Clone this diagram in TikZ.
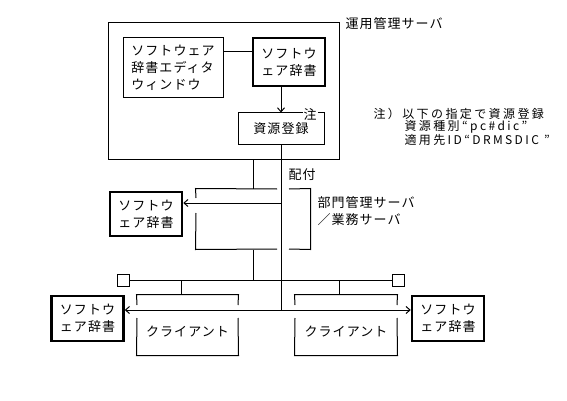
\documentclass[tikz,border=0pt]{standalone}
\usepackage{fontspec}
\setmainfont{Noto Sans CJK JP}[LetterSpace=8]
\newfontfamily\notefont{Noto Sans CJK JP}[LetterSpace=20]
\usetikzlibrary{arrows.meta}
\begin{document}
\begin{tikzpicture}[x=1pt,y=-1pt,line width=1pt,
  txt/.style={font=\fontsize{13}{17}\selectfont, inner sep=0pt},
  note/.style={font=\notefont\fontsize{12}{13}\selectfont, inner sep=0pt, anchor=west},
  box/.style={draw, txt, align=center},
  dict/.style={box, line width=2.5pt, minimum width=72pt, minimum height=45pt},
  plain/.style={inner sep=0pt},
  arr/.style={-{Straight Barb[length=4pt,width=7pt]}}]
\useasboundingbox (0,0) rectangle (567,401);
% operations server
\node[draw, plain, minimum width=231pt, minimum height=136pt] (ops) at (223.5,91) {};
\node[txt, anchor=west] (opsl) at (345,24) {運用管理サーバ};
\node[box, align=left, minimum width=100pt, minimum height=60pt] (ed) at (173,68) {ソフトウェア\\辞書エディタ\\ウィンドウ};
\node[dict, minimum height=48pt] (d0) at (289,62) {ソフトウ\\ェア辞書};
\node[box, minimum width=86pt, minimum height=31pt] (reg) at (281,128.5) {資源登録};
\node[txt, fill=white, inner xsep=1pt] (chu) at (310,114) {注};
\draw ([yshift=16pt]ed.east) -- ([yshift=10pt]d0.west);
\draw[arr] (d0.south -| reg.north) -- (reg.north);
% note
\node[note] (n1) at (373,114) {注）以下の指定で資源登録};
\node[note] (n2) at (404,127) {資源種別“pc\#dic”};
\node[note] (n3) at (404,140) {適用先ID“DRMSDIC ”};
% department server
\node[plain, minimum width=114pt, minimum height=60pt] (srv) at (253,219) {};
\draw (277,189) -- (srv.north west) -- (196,198);
\draw (196,213) -- (srv.south west) -- (277,249);
\draw (289,249) -- (srv.south east) -- (srv.north east) -- (289,189);
\draw (ops.south -| srv.north) -- (srv.north);
\node[txt, anchor=west] (haifu) at (288,175) {配付};
\node[txt, anchor=west, align=left] (srvl) at (317,211.5) {部門管理サーバ\\／業務サーバ};
\node[dict, minimum height=44pt] (d1) at (146,214) {ソフトウ\\ェア辞書};
\coordinate (mid) at (281,203);
\coordinate (hub) at (281,310);
\draw (reg.south) -- (hub);
\draw[arr] (mid) -- (mid -| d1.east);
% bus
\node[draw, plain, minimum size=12pt] (sqL) at (123,280) {};
\node[draw, plain, minimum size=12pt] (sqR) at (398,280) {};
\draw (sqL.east) -- (sqR.west);
\draw (srv.south) -- (srv.south |- sqL.east);
% clients
\node[plain, minimum width=101pt, minimum height=60pt] (cL) at (187.5,325) {};
\node[plain, minimum width=102pt, minimum height=60pt] (cR) at (346,325) {};
\draw (137,305) -- (cL.north west) -- (cL.north east) -- (238,305);
\draw (137,318) -- (cL.south west) -- (cL.south east) -- (238,318);
\draw (295,305) -- (cR.north west) -- (cR.north east) -- (397,305);
\draw (295,318) -- (cR.south west) -- (cR.south east) -- (397,318);
\node[txt] (cLt) at (187.5,332) {クライアント};
\node[txt] (cRt) at (346,332) {クライアント};
\coordinate (dL) at (181,280);
\coordinate (dR) at (339,280);
\draw (dL) -- (dL |- cL.north);
\draw (dR) -- (dR |- cR.north);
% bottom dictionaries
\node[dict] (d2) at (87.5,318.5) {ソフトウ\\ェア辞書};
\node[dict] (d3) at (448,318.5) {ソフトウ\\ェア辞書};
\draw[arr] (hub) -- (hub -| d2.east);
\draw[arr] (hub) -- (hub -| d3.west);
\end{tikzpicture}
\end{document}
